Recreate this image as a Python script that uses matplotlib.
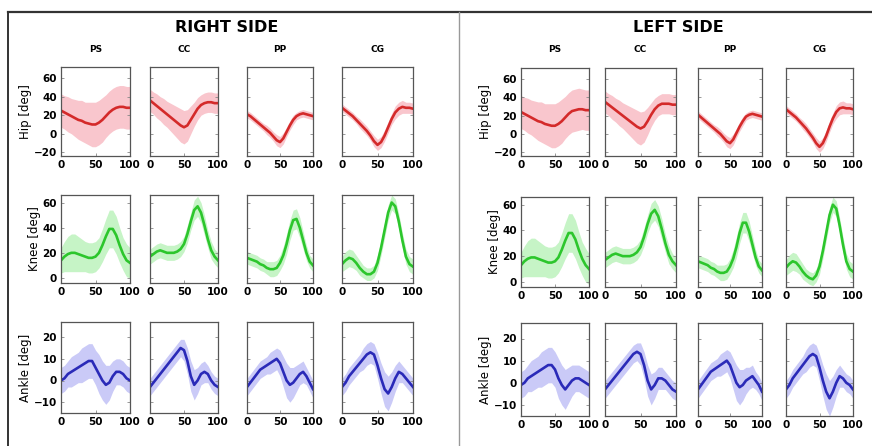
import numpy as np
import matplotlib.pyplot as plt
from matplotlib.lines import Line2D

# gait cycle (%) sampled every 5 %
cycle = np.arange(0, 101, 5)
groups = ['PS', 'CC', 'PP', 'CG']
joints = ['Hip', 'Knee', 'Ankle']

# ---- RIGHT SIDE: means and standard deviations (deg) ----
r_hip_mean = {
    'PS': [25, 23, 21, 19, 17, 15, 14, 12, 11, 10, 10, 12, 15, 19, 23, 26, 28, 29, 29, 28, 28],
    'CC': [36, 33, 30, 27, 24, 21, 18, 15, 12, 9, 7, 9, 15, 21, 27, 31, 33, 34, 34, 33, 33],
    'PP': [21, 19, 16, 13, 10, 7, 4, 1, -3, -7, -9, -5, 2, 9, 15, 19, 21, 22, 21, 20, 19],
    'CG': [28, 25, 22, 19, 15, 11, 7, 3, -2, -8, -12, -9, -2, 7, 16, 23, 27, 29, 28, 28, 27],
}
r_hip_sd = {
    'PS': [18, 18, 19, 19, 20, 21, 22, 22, 23, 24, 24, 24, 24, 23, 23, 23, 23, 23, 23, 23, 23],
    'CC': [12, 12, 13, 13, 14, 14, 15, 16, 17, 18, 18, 17, 15, 13, 12, 11, 11, 11, 11, 11, 11],
    'PP': [4, 4, 4, 4, 4, 4, 5, 5, 5, 6, 6, 6, 5, 5, 5, 4, 4, 4, 4, 4, 4],
    'CG': [4, 4, 4, 4, 4, 5, 5, 5, 5, 6, 6, 6, 6, 6, 6, 7, 7, 7, 6, 6, 6],
}
r_knee_mean = {
    'PS': [14, 17, 19, 20, 20, 19, 18, 17, 16, 16, 17, 20, 26, 33, 39, 39, 34, 26, 19, 14, 12],
    'CC': [17, 19, 21, 22, 21, 20, 20, 20, 21, 23, 27, 35, 45, 54, 57, 52, 42, 31, 22, 17, 14],
    'PP': [16, 15, 14, 13, 11, 10, 8, 7, 7, 8, 12, 18, 27, 38, 46, 47, 40, 30, 20, 13, 10],
    'CG': [11, 14, 16, 15, 12, 8, 5, 3, 3, 5, 12, 24, 38, 52, 60, 57, 45, 30, 17, 11, 9],
}
r_knee_sd = {
    'PS': [10, 12, 14, 15, 15, 14, 13, 12, 12, 12, 12, 12, 13, 14, 15, 15, 15, 14, 13, 13, 12],
    'CC': [6, 6, 6, 6, 6, 6, 6, 6, 6, 6, 6, 7, 7, 8, 8, 8, 8, 7, 7, 6, 6],
    'PP': [5, 5, 5, 5, 5, 5, 5, 6, 6, 6, 6, 7, 8, 8, 8, 8, 8, 7, 6, 5, 5],
    'CG': [6, 7, 7, 7, 6, 6, 5, 5, 5, 5, 6, 6, 6, 6, 6, 6, 6, 6, 6, 6, 6],
}
r_ankle_mean = {
    'PS': [0, 1, 3, 4, 5, 6, 7, 8, 9, 9, 6, 3, 0, -2, -1, 2, 4, 4, 3, 1, 0],
    'CC': [-3, -1, 1, 3, 5, 7, 9, 11, 13, 15, 14, 9, 2, -2, 0, 3, 4, 3, 0, -2, -3],
    'PP': [-3, -1, 1, 3, 5, 6, 7, 8, 9, 10, 8, 4, 0, -2, -1, 1, 3, 4, 2, -1, -4],
    'CG': [-3, -1, 2, 4, 6, 8, 10, 12, 13, 12, 7, 1, -4, -6, -3, 1, 4, 3, 1, -1, -3],
}
r_ankle_sd = {
    'PS': [6, 6, 6, 7, 7, 7, 8, 8, 8, 8, 8, 9, 9, 9, 8, 7, 6, 6, 6, 6, 6],
    'CC': [4, 4, 4, 4, 4, 4, 4, 4, 4, 4, 5, 6, 7, 7, 6, 5, 5, 4, 4, 4, 4],
    'PP': [4, 4, 4, 4, 4, 4, 4, 5, 5, 5, 6, 7, 8, 8, 7, 6, 5, 5, 4, 4, 4],
    'CG': [4, 4, 4, 4, 4, 4, 5, 5, 5, 5, 6, 7, 8, 8, 7, 6, 5, 4, 4, 4, 4],
}

# ---- LEFT SIDE ----
l_hip_mean = {
    'PS': [24, 22, 20, 18, 16, 14, 13, 11, 10, 9, 9, 11, 14, 18, 22, 25, 26, 27, 27, 26, 26],
    'CC': [35, 32, 29, 26, 23, 20, 17, 14, 11, 8, 6, 8, 14, 21, 27, 31, 33, 33, 33, 32, 32],
    'PP': [21, 18, 15, 12, 9, 6, 3, 0, -4, -8, -10, -6, 1, 8, 14, 19, 21, 22, 21, 20, 19],
    'CG': [27, 24, 21, 18, 14, 10, 6, 1, -4, -10, -14, -10, -2, 8, 17, 24, 28, 29, 28, 28, 27],
}
l_hip_sd = {
    'PS': [18, 18, 19, 19, 20, 21, 22, 22, 23, 24, 24, 24, 24, 23, 23, 23, 23, 23, 22, 22, 22],
    'CC': [12, 12, 13, 13, 14, 14, 15, 16, 17, 18, 18, 17, 15, 13, 12, 11, 11, 11, 11, 11, 11],
    'PP': [4, 4, 4, 4, 4, 4, 5, 5, 5, 6, 6, 6, 5, 5, 5, 4, 4, 4, 4, 4, 4],
    'CG': [4, 4, 4, 4, 4, 5, 5, 5, 5, 6, 6, 6, 6, 6, 6, 7, 7, 7, 6, 6, 6],
}
l_knee_mean = {
    'PS': [13, 16, 18, 19, 19, 18, 17, 16, 15, 15, 16, 19, 25, 32, 38, 38, 33, 25, 18, 13, 10],
    'CC': [17, 19, 21, 22, 21, 20, 20, 20, 21, 23, 27, 35, 45, 53, 56, 51, 41, 30, 21, 16, 13],
    'PP': [16, 15, 14, 13, 11, 10, 8, 7, 7, 8, 12, 18, 27, 38, 46, 46, 39, 29, 19, 12, 9],
    'CG': [11, 14, 16, 15, 12, 8, 5, 3, 2, 5, 12, 24, 38, 52, 60, 57, 44, 29, 16, 10, 8],
}
l_knee_sd = r_knee_sd
l_ankle_mean = {
    'PS': [-1, 0, 2, 3, 4, 5, 6, 7, 8, 8, 6, 2, -1, -3, -1, 1, 2, 2, 1, 0, -1],
    'CC': [-3, -1, 1, 3, 5, 7, 9, 11, 13, 14, 13, 8, 1, -3, -1, 2, 2, 1, -1, -3, -4],
    'PP': [-3, -1, 1, 3, 5, 6, 7, 8, 9, 10, 8, 4, 0, -2, -1, 1, 2, 3, 1, -1, -4],
    'CG': [-3, -1, 2, 4, 6, 8, 10, 12, 13, 12, 7, 1, -4, -7, -4, 0, 3, 2, 0, -1, -3],
}
l_ankle_sd = r_ankle_sd

sides = [
    ('RIGHT SIDE', [(r_hip_mean, r_hip_sd), (r_knee_mean, r_knee_sd), (r_ankle_mean, r_ankle_sd)]),
    ('LEFT SIDE', [(l_hip_mean, l_hip_sd), (l_knee_mean, l_knee_sd), (l_ankle_mean, l_ankle_sd)]),
]

line_colors = ['#d42a2a', '#2cc62c', '#2a2ab8']
band_colors = ['#f9c6cd', '#c6f4c6', '#cacaf7']
ylims = [(-24, 72), (-4, 66), (-15, 27)]
yticks = [[-20, 0, 20, 40, 60], [0, 20, 40, 60], [-10, 0, 10, 20]]

# condensed bold look for the small labels
narrow = ['Liberation Sans Narrow', 'DejaVu Sans Condensed', 'DejaVu Sans']

# layout in pixels
W, H = 872, 446
col_px = [[(61, 130), (150, 218), (247, 313), (342, 413)],
          [(521, 589), (605, 676), (698, 762), (786, 853)]]
row_px = [[(67, 156), (195, 283), (322, 413)],
          [(68, 156), (197, 287), (323, 416)]]
title_x = [227, 678]

fig = plt.figure(figsize=(W / 100, H / 100), dpi=100)
fig.patch.set_facecolor('white')

for s, (side_title, data) in enumerate(sides):
    fig.text(title_x[s] / W, 1 - 27 / H, side_title, ha='center', va='center',
             fontsize=11.5, fontweight='bold', family=narrow)
    for c, g in enumerate(groups):
        x0, x1 = col_px[s][c]
        fig.text((x0 + x1) / 2 / W, 1 - 50 / H, g, ha='center', va='center',
                 fontsize=6.5, fontweight='bold', family=narrow)
        for r, (means, sds) in enumerate(data):
            y0, y1 = row_px[s][r]
            ax = fig.add_axes([x0 / W, 1 - y1 / H, (x1 - x0) / W, (y1 - y0) / H])
            m = np.array(means[g], dtype=float)
            sd = np.array(sds[g], dtype=float)
            ax.fill_between(cycle, m - sd, m + sd, color=band_colors[r], lw=0)
            ax.plot(cycle, m, color=line_colors[r], lw=1.9)
            ax.set_xlim(0, 100)
            ax.set_ylim(*ylims[r])
            ax.set_xticks([0, 50, 100])
            ax.set_yticks(yticks[r])
            ax.tick_params(direction='in', length=2, width=0.6, top=False, right=True,
                           colors='#888888', labelcolor='black', pad=3)
            for lab in ax.get_xticklabels() + ax.get_yticklabels():
                lab.set_fontsize(7.5)
                lab.set_fontweight('bold')
                lab.set_family(narrow)
            if c > 0:
                ax.tick_params(labelleft=False)
            else:
                ax.set_ylabel(joints[r] + ' [deg]', fontsize=8.5, labelpad=1)
            for sp in ax.spines.values():
                sp.set_color('#555555')
                sp.set_linewidth(0.9)

# frame lines
fig.add_artist(Line2D([8 / W, 1], [1 - 12 / H, 1 - 12 / H], color='#333333', lw=1.6))
fig.add_artist(Line2D([8 / W, 8 / W], [0, 1 - 12 / H], color='#333333', lw=1.4))
fig.add_artist(Line2D([459 / W, 459 / W], [0, 1 - 12 / H], color='#999999', lw=1.0))

fig.savefig('out.png', dpi=100)
